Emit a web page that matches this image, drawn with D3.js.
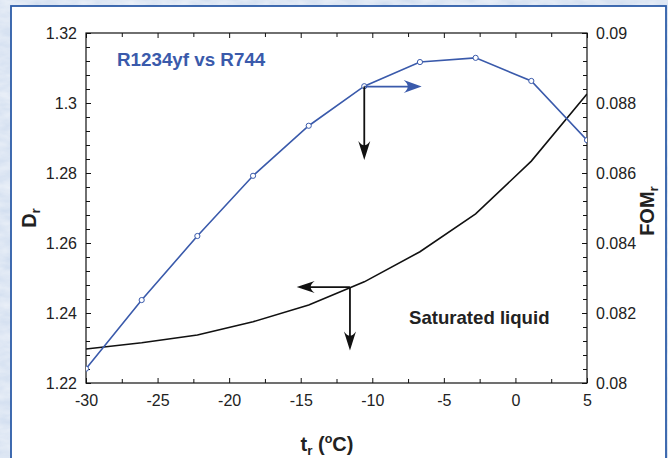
<!DOCTYPE html>
<html><head><meta charset="utf-8">
<script src="https://cdn.jsdelivr.net/npm/d3@7"></script>
<style>html,body{margin:0;padding:0;background:#d9e4f1;}svg{display:block;}</style>
</head><body>
<svg id="c" width="668" height="458"></svg>
<script>
// ---- data ----
const temps = [-30, -26.11, -22.22, -18.33, -14.44, -10.56, -6.67, -2.78, 1.11, 5];
const fomValues = [0.08041, 0.08237, 0.08420, 0.08592, 0.08735, 0.08848, 0.08917, 0.08929, 0.08863, 0.08694];
const drValues = [1.2297, 1.2315, 1.2337, 1.2375, 1.2423, 1.2489, 1.2575, 1.2683, 1.2834, 1.3026];
const xTicks = [-30, -25, -20, -15, -10, -5, 0, 5];
const yLeftTicks = [1.22, 1.24, 1.26, 1.28, 1.3, 1.32];
const yRightTicks = [0.08, 0.082, 0.084, 0.086, 0.088, 0.09];
const seriesLabel = "R1234yf vs R744";
const curveLabel = "Saturated liquid";

const svg = d3.select("#c");
const W = 668, H = 458;
const m = {l: 86, r: 81, t: 33, b: 75};
const pw = W - m.l - m.r, ph = H - m.t - m.b;

// background texture
const defs = svg.append("defs");
const f = defs.append("filter").attr("id", "tex").attr("x", 0).attr("y", 0).attr("width", "100%").attr("height", "100%");
f.append("feTurbulence").attr("type", "fractalNoise").attr("baseFrequency", "0.05 0.12").attr("numOctaves", 3).attr("seed", 4).attr("result", "n");
f.append("feColorMatrix").attr("in", "n").attr("type", "matrix")
  .attr("values", "0 0 0 0 1  0 0 0 0 1  0 0 0 0 1  0 0 0 -1.3 1.1").attr("result", "w");
f.append("feComposite").attr("in", "w").attr("in2", "SourceGraphic").attr("operator", "in");
svg.append("rect").attr("width", W).attr("height", H).attr("fill", "#d3dff0");
svg.append("rect").attr("width", W).attr("height", H).attr("fill", "#d3dff0").attr("filter", "url(#tex)").attr("opacity", 0.55);

// panel
svg.append("rect").attr("x", 11).attr("y", 6).attr("width", 655).attr("height", 470)
  .attr("fill", "#ffffff").attr("stroke", "#2d5ca8").attr("stroke-width", 1.8);

const x = d3.scaleLinear().domain([-30, 5]).range([m.l, m.l + pw]);
const yL = d3.scaleLinear().domain([1.22, 1.32]).range([m.t + ph, m.t]);
const yR = d3.scaleLinear().domain([0.08, 0.09]).range([m.t + ph, m.t]);

const font = "'Liberation Sans', Arial, Helvetica, sans-serif";
const tickCol = "#222";

// axes with inward ticks
function styleAxis(g) {
  g.select(".domain").remove();
  g.selectAll("line").attr("stroke", "#111").attr("stroke-width", 1);
  g.selectAll("text").attr("font-family", font).attr("font-size", 16).attr("fill", tickCol);
}
const xMinor = d3.range(-27.5, 5, 5);
const yLMinor = d3.range(1.224, 1.3199, 0.004).filter(v => Math.abs(Math.round((v - 1.22) / 0.02) * 0.02 + 1.22 - v) > 1e-6);
const yRMinor = d3.range(0.0804, 0.08999, 0.0004).filter(v => Math.abs(Math.round((v - 0.08) / 0.002) * 0.002 + 0.08 - v) > 1e-7);

// bottom
svg.append("g").attr("transform", `translate(0,${m.t + ph})`)
  .call(d3.axisBottom(x).tickValues(xTicks).tickSize(-5).tickPadding(12).tickFormat(d => String(d))).call(styleAxis);
svg.append("g").attr("transform", `translate(0,${m.t + ph})`)
  .call(d3.axisBottom(x).tickValues(xMinor).tickSize(-4).tickFormat("")).call(styleAxis);
// top
svg.append("g").attr("transform", `translate(0,${m.t})`)
  .call(d3.axisTop(x).tickValues(xTicks).tickSize(-5).tickFormat("")).call(styleAxis);
svg.append("g").attr("transform", `translate(0,${m.t})`)
  .call(d3.axisTop(x).tickValues(xMinor).tickSize(-4).tickFormat("")).call(styleAxis);
// left
svg.append("g").attr("transform", `translate(${m.l},0)`)
  .call(d3.axisLeft(yL).tickValues(yLeftTicks).tickSize(-5).tickPadding(9).tickFormat(d => String(+d.toFixed(2)))).call(styleAxis);
svg.append("g").attr("transform", `translate(${m.l},0)`)
  .call(d3.axisLeft(yL).tickValues(yLMinor).tickSize(-4).tickFormat("")).call(styleAxis);
// right
svg.append("g").attr("transform", `translate(${m.l + pw},0)`)
  .call(d3.axisRight(yR).tickValues(yRightTicks).tickSize(-5).tickPadding(9).tickFormat(d => String(+d.toFixed(3)))).call(styleAxis);
svg.append("g").attr("transform", `translate(${m.l + pw},0)`)
  .call(d3.axisRight(yR).tickValues(yRMinor).tickSize(-4).tickFormat("")).call(styleAxis);

// frame
svg.append("rect").attr("x", m.l).attr("y", m.t).attr("width", pw).attr("height", ph)
  .attr("fill", "none").attr("stroke", "#111").attr("stroke-width", 1.2);

// clip
defs.append("clipPath").attr("id", "pc").append("rect").attr("x", m.l).attr("y", m.t).attr("width", pw).attr("height", ph);

// black Dr line
svg.append("path").datum(temps.map((t, i) => [t, drValues[i]]))
  .attr("clip-path", "url(#pc)")
  .attr("fill", "none").attr("stroke", "#111").attr("stroke-width", 1.6)
  .attr("d", d3.line().x(d => x(d[0])).y(d => yL(d[1])));

// blue FOM line
const blue = "#3a5aab";
svg.append("path").datum(temps.map((t, i) => [t, fomValues[i]]))
  .attr("clip-path", "url(#pc)")
  .attr("fill", "none").attr("stroke", blue).attr("stroke-width", 1.6)
  .attr("d", d3.line().x(d => x(d[0])).y(d => yR(d[1])));
svg.append("g").attr("clip-path", "url(#pc)").selectAll("circle").data(temps.map((t, i) => [t, fomValues[i]])).join("circle")
  .attr("cx", d => x(d[0])).attr("cy", d => yR(d[1])).attr("r", 2.6)
  .attr("fill", "#fff").attr("stroke", blue).attr("stroke-width", 1);

// arrows
function arrow(x1, y1, x2, y2, color, headLen, headW) {
  const ang = Math.atan2(y2 - y1, x2 - x1);
  const g = svg.append("g");
  const bx = x2 - Math.cos(ang) * headLen * 0.6, by = y2 - Math.sin(ang) * headLen * 0.6;
  g.append("line").attr("x1", x1).attr("y1", y1).attr("x2", bx).attr("y2", by)
    .attr("stroke", color).attr("stroke-width", 1.8);
  const p = `M0,0 L${-headLen},${-headW / 2} Q${-headLen * 0.55},0 ${-headLen},${headW / 2} Z`;
  g.append("path").attr("d", p).attr("fill", color)
    .attr("transform", `translate(${x2},${y2}) rotate(${ang * 180 / Math.PI})`);
}
// FOM arrows at t = -10.56
arrow(x(-10.56), yR(0.08847), x(-6.55), yR(0.08847), blue, 18, 13);
arrow(x(-10.56), yR(0.08847), x(-10.56), yL(1.2837), "#111", 19, 12);
// Dr arrows at t = -11.56
arrow(x(-11.56), yL(1.2474), x(-15.28), yL(1.2474), "#111", 18, 12);
arrow(x(-11.56), yL(1.2474), x(-11.56), yL(1.2293), "#111", 19, 12);

// labels
svg.append("text").attr("x", 117).attr("y", 66).text(seriesLabel)
  .attr("font-family", font).attr("font-weight", "bold").attr("font-size", 18.8).attr("fill", blue);
svg.append("text").attr("x", 409).attr("y", 324).text(curveLabel)
  .attr("font-family", font).attr("font-weight", "bold").attr("font-size", 18.6).attr("fill", "#222");

// axis titles
const xt = svg.append("text").attr("x", 327).attr("y", 451).attr("text-anchor", "middle")
  .attr("font-family", font).attr("font-weight", "bold").attr("font-size", 20).attr("fill", "#222");
xt.append("tspan").text("t");
xt.append("tspan").text("r").attr("font-size", 13.5).attr("dy", 4);
xt.append("tspan").text(" (").attr("dy", -4);
xt.append("tspan").text("o").attr("font-size", 12.5).attr("dy", -8);
xt.append("tspan").text("C)").attr("dy", 8);

const yl = svg.append("text").attr("transform", "translate(36,218) rotate(-90)").attr("text-anchor", "middle")
  .attr("font-family", font).attr("font-weight", "bold").attr("font-size", 20).attr("fill", "#222");
yl.append("tspan").text("D");
yl.append("tspan").text("r").attr("font-size", 13.5).attr("dy", 4);

const yr = svg.append("text").attr("transform", "translate(654,211) rotate(-90)").attr("text-anchor", "middle")
  .attr("font-family", font).attr("font-weight", "bold").attr("font-size", 20).attr("fill", "#222");
yr.append("tspan").text("FOM");
yr.append("tspan").text("r").attr("font-size", 13.5).attr("dy", 4);
</script>
</body></html>
